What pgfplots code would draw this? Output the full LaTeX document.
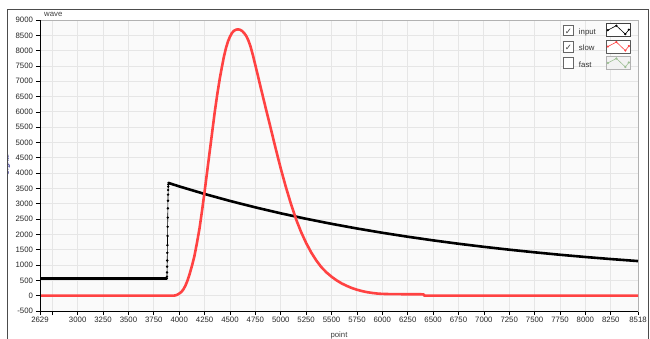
\documentclass[border=0pt]{standalone}
\usepackage{pgfplots}
\pgfplotsset{compat=1.18}
\usepackage{fontspec}
\setmainfont{Liberation Sans}
\newfontfamily\dejavu{DejaVu Sans}
\definecolor{wred}{HTML}{FF4242}
\definecolor{fastc}{HTML}{9DBF94}
\definecolor{gridc}{HTML}{E6E6E6}
\definecolor{bgc}{HTML}{FAFAFA}
\newcommand\cb[1]{{\setlength{\fboxsep}{0pt}\setlength{\fboxrule}{0.8pt}\fcolorbox{black!60}{white}{\makebox[9.5pt]{\rule[-1pt]{0pt}{10pt}\raisebox{0.3pt}{\color{black!75}\dejavu\fontsize{8.5}{8.5}\selectfont #1}}}}}
\newcommand\legimg[3]{%
  \draw[#2, line width=0.9pt, fill=#3] (0pt,-6.5pt) rectangle (24pt,6.5pt);
  \draw[#1, line width=0.6pt, mark=*, mark size=0.8pt, mark options={fill=#1, draw=#1}] plot coordinates {(1.5pt,0pt) (10pt,4.5pt) (19pt,-4pt) (22.5pt,0.5pt)};}
\begin{document}
\begin{tikzpicture}
\clip (0pt,0pt) rectangle (650pt,338pt);
\fill[white] (0pt,0pt) rectangle (650pt,338pt);
\begin{axis}[
  at={(40pt,27pt)}, anchor=south west,
  scale only axis, width=598pt, height=291pt,
  xmin=2629, xmax=8518, ymin=-500, ymax=9000,
  clip mode=individual,
  axis background/.style={fill=bgc},
  axis line style={black!30},
  grid=major, major grid style={draw=gridc, line width=0.9pt},
  tick align=outside, tick pos=left, major tick length=4pt,
  tick style={black, line width=0.7pt},
  xtick={2629,2750,3000,3250,3500,3750,4000,4250,4500,4750,5000,5250,5500,5750,6000,6250,6500,6750,7000,7250,7500,7750,8000,8250,8518},
  xticklabels={2629,,3000,3250,3500,3750,4000,4250,4500,4750,5000,5250,5500,5750,6000,6250,6500,6750,7000,7250,7500,7750,8000,8250,8518},
  ytick={-500,0,500,1000,1500,2000,2500,3000,3500,4000,4500,5000,5500,6000,6500,7000,7500,8000,8500,9000},
  scaled y ticks=false,
  /pgf/number format/assume math mode=true,
  /pgf/number format/1000 sep={},
  ticklabel style={font=\fontsize{7.8}{8}\selectfont, text=black!85},
  xticklabel style={yshift=1pt},
  yticklabel style={xshift=0.5pt},
  legend style={at={(1,1)}, anchor=north east, xshift=-7pt, yshift=-3pt,
    draw=none, fill=none, inner sep=0pt, row sep=2.5pt, column sep=9pt,
    font=\fontsize{7.8}{9}\selectfont, text=black!80, nodes={inner sep=1pt}},
  legend cell align=left, legend plot pos=right,
]
\addplot[black, line width=2.6pt, forget plot] coordinates {(2629,560) (3878,560)};
\addplot[black, line width=0.6pt, mark=*, mark size=0.9pt, forget plot] coordinates {
(3878,560) (3879,620) (3880,760) (3881,950) (3882,1150) (3883,1400) (3884,1650) (3885,1950)
(3886,2250) (3887,2550) (3888,2850) (3889,3100) (3890,3300) (3891,3450) (3892,3560) (3893,3630) (3895,3680)};
\addplot[black, line width=2.6pt, legend image code/.code={\legimg{black}{black!75}{white}}] coordinates {
(3895,3680) (4000,3568) (4250,3321) (4500,3093) (4750,2883) (5000,2689) (5250,2510) (5500,2346)
(5750,2194) (6000,2054) (6250,1925) (6500,1806) (6750,1696) (7000,1595) (7250,1502) (7500,1416)
(7750,1336) (8000,1263) (8250,1196) (8518,1130)};
\addlegendentry{\cb{✓}\hspace{5pt}input}
\addplot[wred, line width=2.6pt, line join=round, legend image code/.code={\legimg{wred}{black!65}{white}}] coordinates {
(2629,0) (3940,0) (3960,8) (3980,30) (4000,70) (4020,120) (4040,200) (4060,320) (4080,480)
(4100,680) (4125,970) (4150,1300) (4175,1730) (4200,2200) (4225,2780) (4250,3400) (4275,4050)
(4300,4700) (4325,5350) (4350,6000) (4375,6580) (4400,7100) (4420,7460) (4440,7800) (4460,8080)
(4480,8300) (4500,8460) (4520,8580) (4540,8650) (4560,8685) (4580,8695) (4600,8680) (4620,8640)
(4640,8570) (4660,8480) (4680,8340) (4700,8160) (4725,7860) (4750,7520) (4775,7180) (4800,6830)
(4850,6150) (4900,5480) (4950,4800)
(5000,4150) (5050,3550) (5100,3000) (5150,2500) (5200,2080) (5250,1720) (5300,1410) (5350,1150)
(5400,930) (5450,760) (5500,620) (5550,500) (5600,400) (5650,320) (5700,250) (5750,195) (5800,150)
(5850,115) (5900,90) (5950,70) (6000,58) (6100,50) (6405,45) (6415,0) (8518,0)};
\addlegendentry{\cb{✓}\hspace{5pt}slow}
\addlegendimage{legend image code/.code={\legimg{fastc}{black!30}{black!5}}}
\addlegendentry{\cb{}\hspace{5pt}fast}
\draw[black, line width=0.9pt] (rel axis cs:0,1) -- (rel axis cs:0,0) -- (rel axis cs:1,0);
\end{axis}
\node[rotate=90, anchor=south, inner sep=0pt, text=blue!45!black, font=\fontsize{7.5}{8}\selectfont] at (10.5pt,173pt) {Signal};
\fill[white] (0pt,0pt) rectangle (7pt,338pt);
\fill[white] (0pt,328pt) rectangle (650pt,338pt);
\node[anchor=base west, inner sep=0pt, text=black!75, font=\fontsize{7.8}{9}\selectfont] at (44pt,321.5pt) {wave};
\node[anchor=base, inner sep=0pt, text=black!75, font=\fontsize{7.8}{9}\selectfont] at (339pt,1pt) {point};
\draw[black!70, line width=1pt] (7pt,-2pt) -- (7pt,328pt) -- (648pt,328pt) -- (648pt,-2pt);
\end{tikzpicture}
\end{document}
